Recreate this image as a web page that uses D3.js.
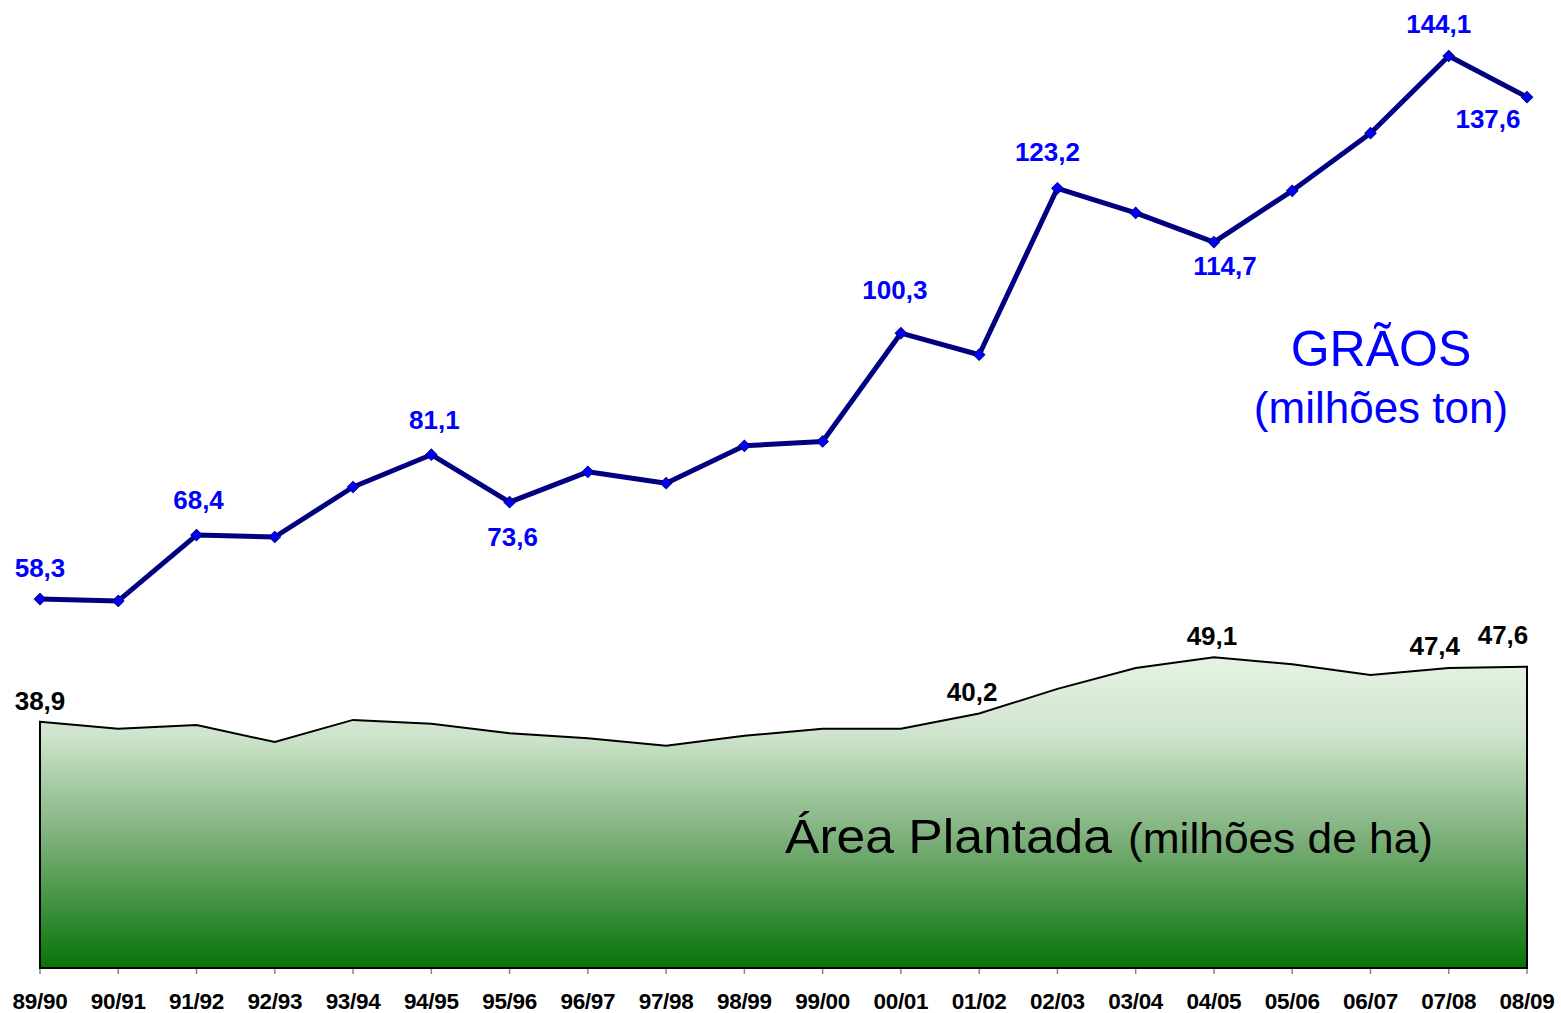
<!DOCTYPE html>
<html><head><meta charset="utf-8">
<script src="https://cdn.jsdelivr.net/npm/d3@7"></script>
<style>body{margin:0;background:#fff}svg{display:block}</style>
</head><body>
<svg id="c" width="1561" height="1013"></svg>
<script>
const safras = ["89/90","90/91","91/92","92/93","93/94","94/95","95/96","96/97","97/98","98/99","99/00","00/01","01/02","02/03","03/04","04/05","05/06","06/07","07/08","08/09"];
const graos = [58.3,58.0,68.4,68.1,76.0,81.1,73.6,78.4,76.6,82.5,83.2,100.3,96.9,123.2,119.3,114.7,122.8,131.9,144.1,137.6];
const area  = [38.9,37.8,38.4,35.7,39.2,38.6,37.1,36.3,35.1,36.7,37.8,37.8,40.2,44.1,47.4,49.1,48.0,46.3,47.4,47.6];
// [index, text]
const graosLabels = [[0,"58,3"],[2,"68,4"],[5,"81,1"],[6,"73,6"],[11,"100,3"],[13,"123,2"],[15,"114,7"],[18,"144,1"],[19,"137,6"]];
const areaLabels = [[0,"38,9"],[12,"40,2"],[15,"49,1"],[18,"47,4"],[19,"47,6"]];

const svg = d3.select("#c");
const x = d3.scalePoint().domain(safras).range([40,1527]);
const y = d3.scaleLinear().domain([0,150]).range([968, 968-150*6.329]);

const defs = svg.append("defs");
const g = defs.append("linearGradient").attr("id","grad").attr("x1",0).attr("y1",0).attr("x2",0).attr("y2",1);
g.append("stop").attr("offset","0%").attr("stop-color","#e6f3e4");
g.append("stop").attr("offset","25%").attr("stop-color","#cfe4cc");
g.append("stop").attr("offset","60%").attr("stop-color","#78ad76");
g.append("stop").attr("offset","100%").attr("stop-color","#067406");

// area
const areaGen = d3.area().x((d,i)=>x(safras[i])).y0(y(0)).y1(d=>y(d));
svg.append("path").datum(area).attr("d",areaGen).attr("fill","url(#grad)")
  .attr("stroke","#000").attr("stroke-width",2).attr("stroke-linejoin","miter");

// ticks
svg.append("g").selectAll("line").data(safras).join("line")
  .attr("x1",d=>x(d)).attr("x2",d=>x(d)).attr("y1",969).attr("y2",974)
  .attr("stroke","#888").attr("stroke-width",1.5);
svg.append("line").attr("x1",40).attr("x2",1527).attr("y1",y(0)).attr("y2",y(0)).attr("stroke","#000").attr("stroke-width",2);

svg.append("g").selectAll("text").data(safras).join("text")
  .attr("x",d=>x(d)).attr("y",1009).attr("text-anchor","middle")
  .attr("font-family","Liberation Sans, Arial, sans-serif").attr("font-weight","bold")
  .attr("font-size",22.5).attr("letter-spacing","-0.3").attr("fill","#000").text(d=>d);

// line
const lineGen = d3.line().x((d,i)=>x(safras[i])).y(d=>y(d));
svg.append("path").datum(graos).attr("d",lineGen).attr("fill","none")
  .attr("stroke","#000080").attr("stroke-width",5).attr("stroke-linejoin","round");
svg.append("g").selectAll("path").data(graos).join("path")
  .attr("transform",(d,i)=>`translate(${x(safras[i])},${y(d)}) rotate(45)`)
  .attr("d",d3.symbol().type(d3.symbolSquare).size(64))
  .attr("fill","#0000ff").attr("stroke","#000080").attr("stroke-width",1);

// grain labels (offsets from point)
const gOff = {0:[0,-22],2:[2,-26],5:[3,-26],6:[3,44],11:[-6,-34],13:[-10,-27],15:[11,33],18:[-10,-23],19:[-39,31]};
svg.append("g").selectAll("text").data(graosLabels).join("text")
  .attr("x",d=>x(safras[d[0]])+gOff[d[0]][0]).attr("y",d=>y(graos[d[0]])+gOff[d[0]][1])
  .attr("text-anchor","middle").attr("font-family","Liberation Sans, Arial, sans-serif")
  .attr("font-weight","bold").attr("font-size",26).attr("fill","#0000ff").text(d=>d[1]);

// area labels
const aOff = {0:[0,-12],12:[-7,-13],15:[-2,-12],18:[-14,-13],19:[-24,-23]};
svg.append("g").selectAll("text").data(areaLabels).join("text")
  .attr("x",d=>x(safras[d[0]])+aOff[d[0]][0]).attr("y",d=>y(area[d[0]])+aOff[d[0]][1])
  .attr("text-anchor","middle").attr("font-family","Liberation Sans, Arial, sans-serif")
  .attr("font-weight","bold").attr("font-size",26).attr("fill","#000").text(d=>d[1]);

// titles
svg.append("text").attr("x",1381).attr("y",366).attr("text-anchor","middle")
  .attr("font-family","Liberation Sans, Arial, sans-serif").attr("font-size",50).attr("fill","#0000ff").text("GRÃOS");
svg.append("text").attr("x",1381).attr("y",423).attr("text-anchor","middle")
  .attr("font-family","Liberation Sans, Arial, sans-serif").attr("font-size",44).attr("fill","#0000ff").text("(milhões ton)");

const t = svg.append("text").attr("y",853).attr("font-family","Liberation Sans Narrow, Liberation Sans, Arial, sans-serif").attr("fill","#000");
t.append("tspan").attr("x",785).attr("font-size",48).attr("textLength",327).attr("lengthAdjust","spacingAndGlyphs").text("Área Plantada");
t.append("tspan").attr("x",1128).attr("font-size",42).attr("textLength",305).attr("lengthAdjust","spacingAndGlyphs").text("(milhões de ha)");
</script>
</body></html>
